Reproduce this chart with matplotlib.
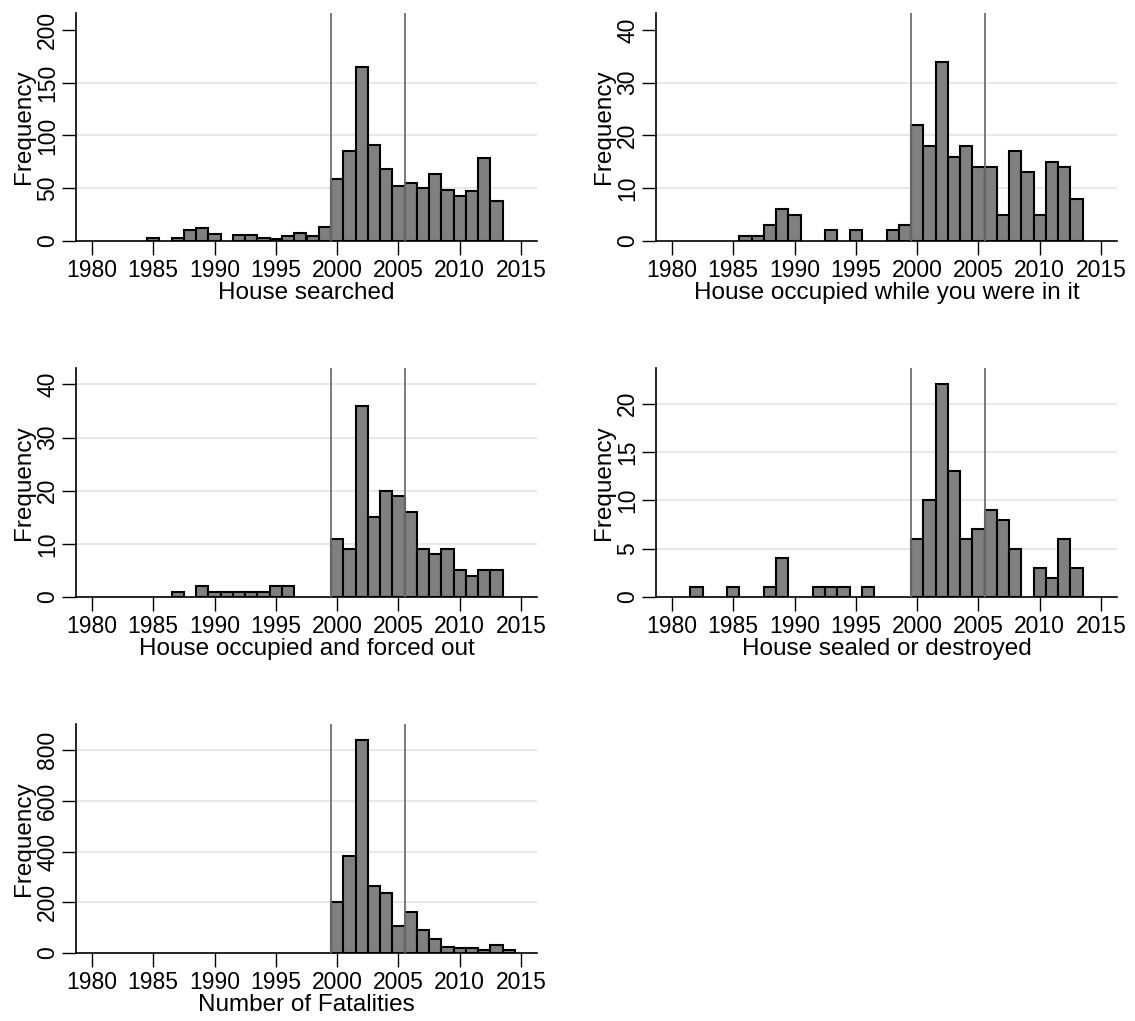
import numpy as np
import matplotlib
matplotlib.use('Agg')
import matplotlib.pyplot as plt

plt.rcParams['font.family'] = ['Liberation Sans', 'DejaVu Sans']

# data: counts per year (bars centred on the year)
yrs_searched = [1985, 1987, 1988, 1989, 1990, 1992, 1993, 1994, 1995, 1996, 1997, 1998, 1999,
                2000, 2001, 2002, 2003, 2004, 2005, 2006, 2007, 2008, 2009, 2010, 2011, 2012, 2013]
cnt_searched = [3, 3, 10, 12, 7, 6, 6, 3, 2, 5, 8, 5, 13,
                59, 85, 165, 91, 68, 52, 55, 50, 63, 48, 43, 47, 79, 38]

yrs_occupied = [1986, 1987, 1988, 1989, 1990, 1993, 1995, 1998, 1999,
                2000, 2001, 2002, 2003, 2004, 2005, 2006, 2007, 2008, 2009, 2010, 2011, 2012, 2013]
cnt_occupied = [1, 1, 3, 6, 5, 2, 2, 2, 3,
                22, 18, 34, 16, 18, 14, 14, 5, 17, 13, 5, 15, 14, 8]

yrs_forced = [1987, 1989, 1990, 1991, 1992, 1993, 1994, 1995, 1996,
              2000, 2001, 2002, 2003, 2004, 2005, 2006, 2007, 2008, 2009, 2010, 2011, 2012, 2013]
cnt_forced = [1, 2, 1, 1, 1, 1, 1, 2, 2,
              11, 9, 36, 15, 20, 19, 16, 9, 8, 9, 5, 4, 5, 5]

yrs_sealed = [1982, 1985, 1988, 1989, 1992, 1993, 1994, 1996,
              2000, 2001, 2002, 2003, 2004, 2005, 2006, 2007, 2008, 2010, 2011, 2012, 2013]
cnt_sealed = [1, 1, 1, 4, 1, 1, 1, 1,
              6, 10, 22, 13, 6, 7, 9, 8, 5, 3, 2, 6, 3]

yrs_fatal = [2000, 2001, 2002, 2003, 2004, 2005, 2006, 2007, 2008, 2009, 2010, 2011, 2012, 2013, 2014]
cnt_fatal = [203, 383, 840, 265, 237, 105, 161, 92, 55, 25, 20, 20, 12, 30, 13]

titles = ['House searched', 'House occupied while you were in it',
          'House occupied and forced out', 'House sealed or destroyed',
          'Number of Fatalities']
yticks = [[0, 50, 100, 150, 200], [0, 10, 20, 30, 40], [0, 10, 20, 30, 40],
          [0, 5, 10, 15, 20], [0, 200, 400, 600, 800]]
ytops = [216, 43.2, 43.1, 23.7, 904]
grid_sets = [[50, 100, 150], [10, 20, 30], [10, 20, 30, 40],
             [5, 10, 15, 20], [200, 400, 600, 800]]
xticks = [1980, 1985, 1990, 1995, 2000, 2005, 2010, 2015]
vlines = [1999.5, 2005.5]

data = [(yrs_searched, cnt_searched), (yrs_occupied, cnt_occupied),
        (yrs_forced, cnt_forced), (yrs_sealed, cnt_sealed), (yrs_fatal, cnt_fatal)]

W, H = 1135, 1021
fig = plt.figure(figsize=(W / 100, H / 100), dpi=100)

# axes boxes in pixels: left, top, right, bottom
boxes = [(76, 13, 537, 241), (656, 13, 1117, 241),
         (76, 368, 537, 597), (656, 368, 1117, 597),
         (76, 724, 537, 953)]

for i, (b, (yrs, cnt)) in enumerate(zip(boxes, data)):
    l, t, r, bt = b
    ax = fig.add_axes([l / W, 1 - bt / H, (r - l) / W, (bt - t) / H])
    for g in grid_sets[i]:
        ax.axhline(g, color='#e8e8e8', lw=1.5, zorder=0)
    ax.bar(yrs, cnt, width=1.0, color='#808080', edgecolor='black', linewidth=1.5, zorder=2)
    for v in vlines:
        ax.axvline(v, color='#707070', lw=1.3, zorder=3)
    ax.set_xlim(1978.7, 2016.3)
    ax.set_ylim(0, ytops[i])
    ax.set_xticks(xticks)
    ax.set_yticks(yticks[i])
    ax.set_xticklabels([str(x) for x in xticks], fontsize=16.5)
    ax.set_yticklabels([str(y) for y in yticks[i]], fontsize=16.5, rotation=90, va='center')
    ax.tick_params(direction='out', length=10, width=1, pad=3, colors='black')
    ax.tick_params(axis='y', pad=2)
    ax.spines['top'].set_visible(False)
    ax.spines['right'].set_visible(False)
    ax.spines['left'].set_linewidth(1.2)
    ax.spines['bottom'].set_linewidth(1.2)
    ax.set_xlabel(titles[i], fontsize=17.5, labelpad=0)
    ax.set_ylabel('Frequency', fontsize=17.5, labelpad=1)

fig.savefig('out.png', dpi=100)
